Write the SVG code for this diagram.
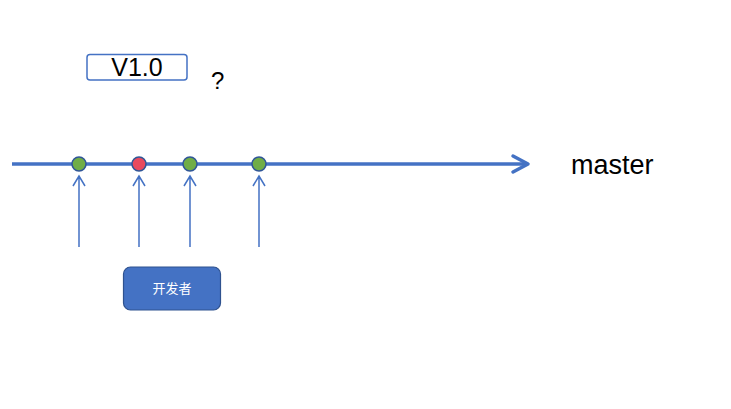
<svg xmlns="http://www.w3.org/2000/svg" width="731" height="409" viewBox="0 0 731 409">
<style>
.t{font-family:"Liberation Sans","Noto Sans CJK SC",sans-serif;fill:#000}
.c{stroke:#2F5597;stroke-width:1.5}
.g{fill:#70AD47}
.r{fill:#E84A5F}
.up{stroke:#4472C4;stroke-width:1.5;fill:none}
</style>
<rect width="731" height="409" fill="#fff"/>
<g id="connectors">
<line x1="12" y1="164" x2="527" y2="164" stroke="#4472C4" stroke-width="3.5"/>
<polyline points="513,156 528,164 513,172" fill="none" stroke="#4472C4" stroke-width="3.5" stroke-linejoin="round" stroke-linecap="round"/>
<g class="up">
<path d="M79,247V176M73,186L79,176L85,186"/>
<path d="M139,247V176M133,186L139,176L145,186"/>
<path d="M190,247V176M184,186L190,176L196,186"/>
<path d="M259,247V176M253,186L259,176L265,186"/>
</g>
</g>
<g id="v10">
<rect x="87" y="54.5" width="100" height="25.5" rx="3" fill="#fff" stroke="#4472C4" stroke-width="1.5"/>
<text class="t" x="137" y="76" font-size="25" text-anchor="middle">V1.0</text>
</g>
<g id="question"><text class="t" x="211" y="89" font-size="24">?</text></g>
<g id="commit1"><circle class="c g" cx="79" cy="164" r="7"/></g>
<g id="commit2"><circle class="c r" cx="139" cy="164" r="7"/></g>
<g id="commit3"><circle class="c g" cx="190" cy="164" r="7"/></g>
<g id="commit4"><circle class="c g" cx="259" cy="164" r="7"/></g>
<g id="master"><text class="t" x="571" y="174" font-size="27">master</text></g>
<g id="dev">
<rect x="123.5" y="267" width="97" height="43" rx="7" fill="#4472C4" stroke="#2F528F" stroke-width="1.2"/>
<text x="172" y="293" font-size="13" text-anchor="middle" fill="#fff" font-family="'Noto Sans CJK SC',sans-serif">开发者</text>
</g>
</svg>
